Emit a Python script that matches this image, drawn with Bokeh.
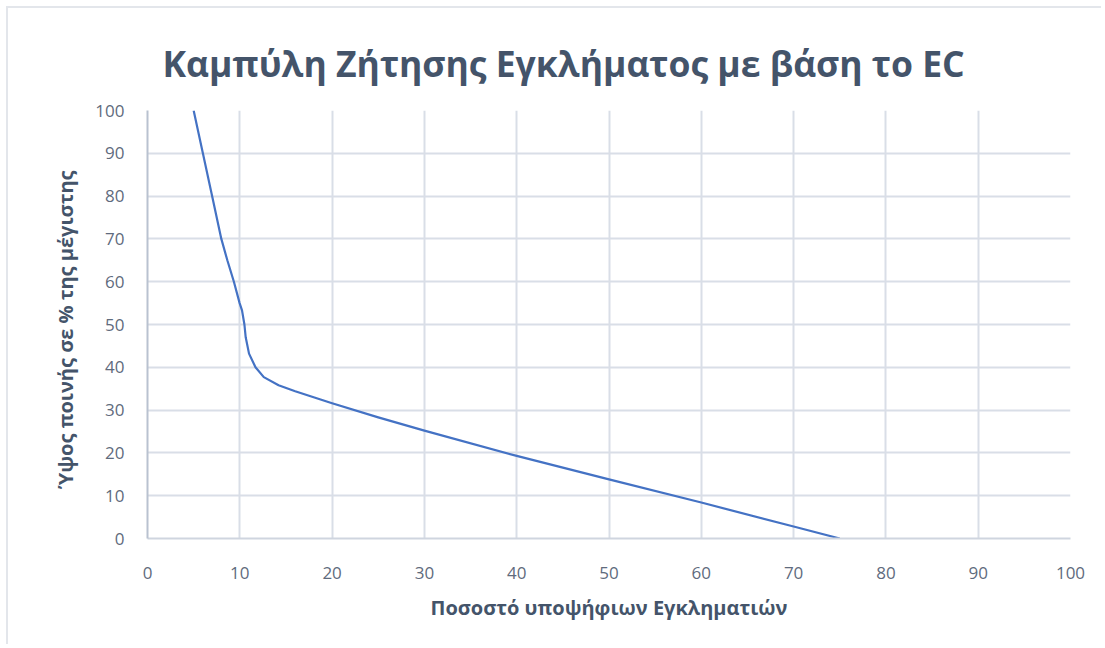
from bokeh.plotting import figure
from bokeh.embed import file_html
from bokeh.resources import INLINE
from bokeh.models import FixedTicker, Range1d

# Data
x_vals = [5, 6, 7, 8, 8.65, 9.36, 9.98, 10.24, 10.5, 10.64, 11.0, 11.7, 12.6, 14.2, 16, 18, 20, 25, 30, 40, 50, 60, 70, 75]
y_vals = [100, 90, 80, 70, 65, 60, 55, 53.3, 50, 47, 43.2, 40, 37.7, 35.8, 34.4, 33.0, 31.6, 28.3, 25.2, 19.3, 13.8, 8.4, 2.8, 0]
x_ticks = [0, 10, 20, 30, 40, 50, 60, 70, 80, 90, 100]
y_ticks = [0, 10, 20, 30, 40, 50, 60, 70, 80, 90, 100]

title_text = "Καμπύλη Ζήτησης Εγκλήματος με βάση το EC"
x_label = "Ποσοστό υποψήφιων Εγκληματιών"
y_label = "Ύψος  ποινής σε % της  μέγιστης"

FONT = "Open Sans"
TICK_COLOR = "#5f6b7d"
LABEL_COLOR = "#44546a"
GRID_COLOR = "#d9dee7"

p = figure(width=1095, height=638, output_backend="svg", toolbar_location=None,
           x_range=Range1d(0, 100), y_range=Range1d(0, 100),
           min_border_left=139, min_border_right=33, min_border_top=102, min_border_bottom=108)
p.styles = {"margin-left": "6px", "margin-top": "6px",
            "border-left": "2px solid #e3e6eb", "border-top": "2px solid #e3e6eb"}

p.title.text = title_text
p.title.text_font = FONT
p.title.text_font_size = "35.5px"
p.title.text_font_style = "bold"
p.title.text_color = LABEL_COLOR
p.title.align = "left"
p.title.offset = 15
p.title.standoff = 48

p.outline_line_color = None
p.background_fill_color = "white"
p.border_fill_color = "white"

for ax in (p.xaxis[0], p.yaxis[0]):
    ax.major_tick_line_color = None
    ax.minor_tick_line_color = None
    ax.major_label_text_font = FONT
    ax.major_label_text_font_size = "17px"
    ax.major_label_text_color = TICK_COLOR
    ax.axis_label_text_font = FONT
    ax.axis_label_text_font_size = "20px"
    ax.axis_label_text_font_style = "bold"
    ax.axis_label_text_color = LABEL_COLOR

p.xaxis.ticker = FixedTicker(ticks=x_ticks)
p.yaxis.ticker = FixedTicker(ticks=y_ticks)
p.xaxis.axis_label = x_label
p.yaxis.axis_label = y_label
p.xaxis.axis_line_color = "#cfd5df"
p.yaxis.axis_line_color = "#b9c2d0"
p.xaxis.axis_line_width = 2
p.yaxis.axis_line_width = 2
p.xaxis.major_label_standoff = 22
p.yaxis.major_label_standoff = 17
p.xaxis.axis_label_standoff = 12
p.yaxis.axis_label_standoff = 13

p.xgrid.grid_line_color = GRID_COLOR
p.ygrid.grid_line_color = GRID_COLOR
p.xgrid.grid_line_width = 2
p.ygrid.grid_line_width = 2

p.line(x_vals, y_vals, line_color="#4472c4", line_width=2.2, line_join="round")

open("out.html", "w").write(file_html(p, INLINE))
